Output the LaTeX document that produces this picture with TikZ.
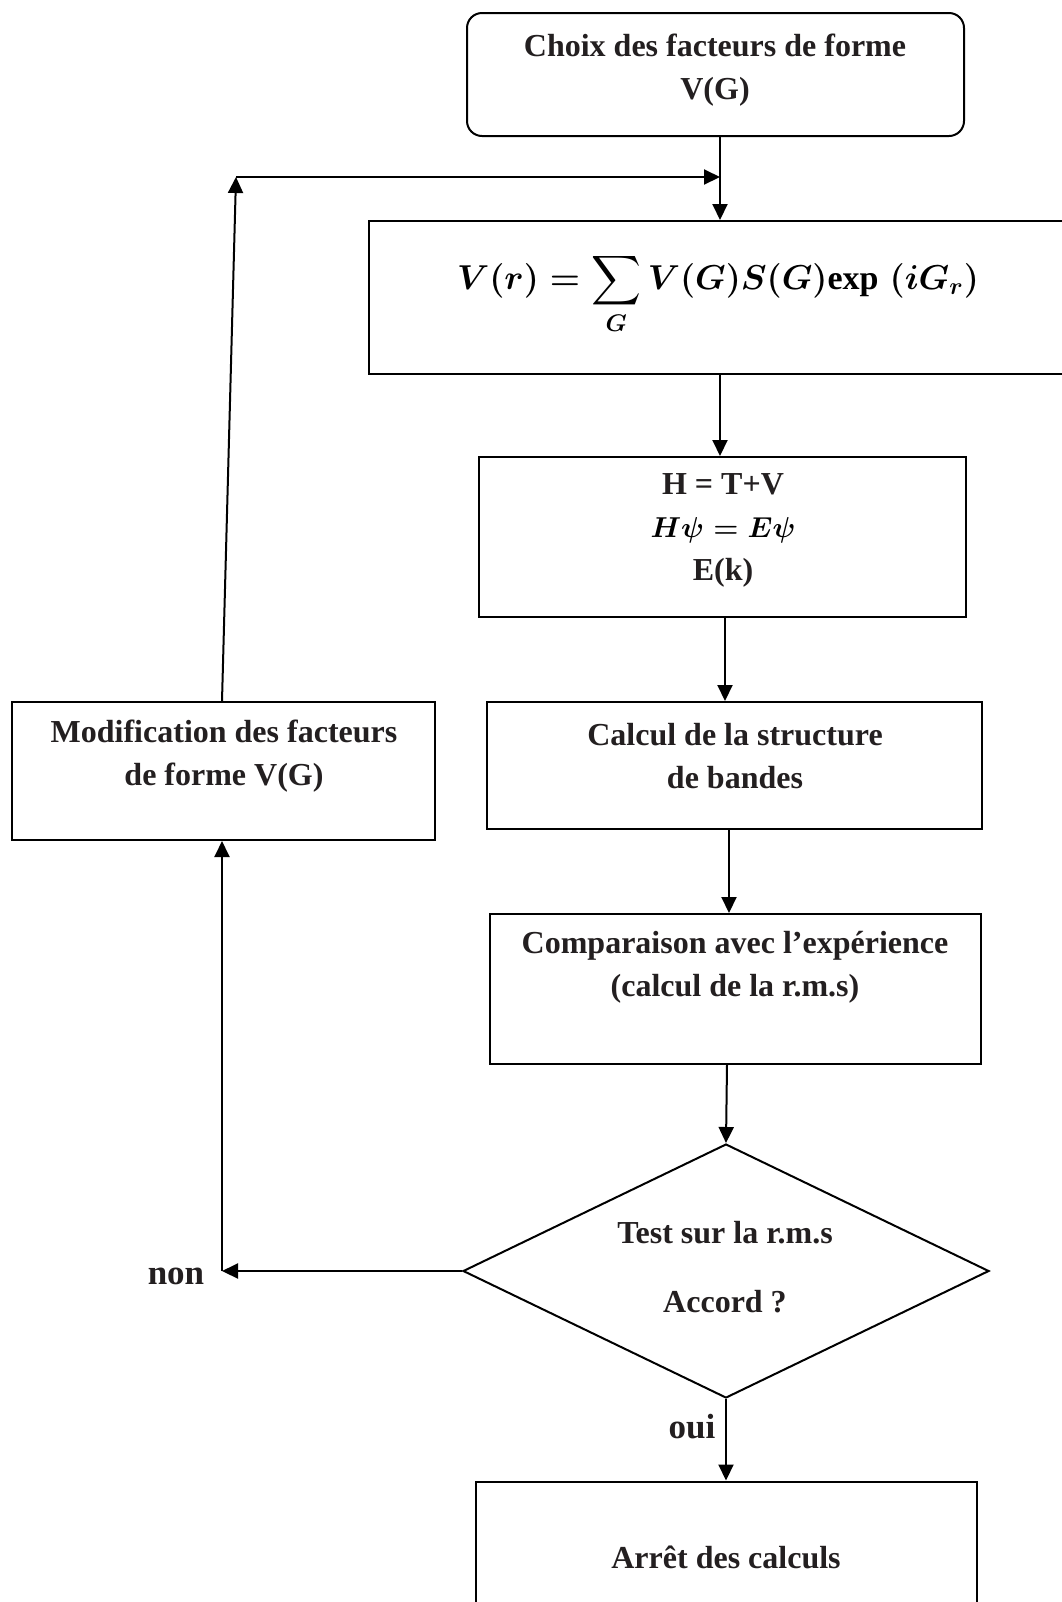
\documentclass[tikz,border=0pt]{standalone}
\usepackage{amsmath}
\usepackage{fontspec}
\setmainfont{Liberation Serif}
\usetikzlibrary{arrows.meta,shapes.geometric}
\definecolor{ink}{HTML}{231F20}
\newsavebox{\potbox}
\newsavebox{\hambox}
\begin{document}
% formulas are set in boxes first, in bold math
\sbox{\potbox}{\fontsize{17}{21}\selectfont\boldmath$\displaystyle V(r)=\sum_{G}V(G)S(G)\mathrm{exp}\;(iG_r)$}
\sbox{\hambox}{\fontsize{13.5}{21.5}\selectfont\boldmath$H\psi=E\psi$}
\begin{tikzpicture}[x=0.5pt,y=-0.5pt,
  frame/.style={draw=black, line width=1pt, inner sep=0pt},
  txt/.style={font=\bfseries\fontsize{16}{21.5}\selectfont, text=ink, align=center, inner sep=0pt},
  tag/.style={font=\bfseries\fontsize{17.5}{20}\selectfont, text=ink, inner sep=0pt},
  arr/.style={-{Triangle[length=8pt,width=7.5pt]}, line width=1pt, draw=black}]

% page
\fill[white] (0,0) rectangle (1061,1602);
\useasboundingbox (0,0) rectangle (1061,1602);

% frames
\node[frame, rounded corners=7.5pt, minimum width=248.5pt, minimum height=61.5pt] (b1) at (715.5,74.5) {};
\node[frame, minimum width=353pt, minimum height=76.5pt] (b2) at (722,297.5) {};
\node[frame, minimum width=243.5pt, minimum height=80pt] (b3) at (722.5,537) {};
\node[frame, minimum width=247.5pt, minimum height=63.5pt] (b4) at (734.5,765.5) {};
\node[frame, minimum width=245.5pt, minimum height=75pt] (b5) at (735.5,989) {};
\node[frame, diamond, minimum width=263pt, minimum height=127pt] (dia) at (726,1271) {};
\node[frame, minimum width=250.5pt, minimum height=71.5pt] (b6) at (726.5,1553) {};
\node[frame, minimum width=211.5pt, minimum height=69pt] (mod) at (223.5,771) {};

% texts
\node[txt] (t1) at (715,70) {Choix des facteurs de forme\\V(G)};
\node[txt] (t2) at (718,294) {\usebox{\potbox}};
\node[txt] (t3) at (723,530) {H = T+V\\\usebox{\hambox}\\E(k)};
\node[txt] (t4) at (735,756) {Calcul de la structure\\de bandes};
\node[txt] (t5) at (735,967) {Comparaison avec l’expérience\\(calcul de la r.m.s)};
\node[txt] (t6) at (725,1267) {Test sur la r.m.s\\[13pt]Accord ?};
\node[txt] (t7) at (726,1557) {Arrêt des calculs};
\node[txt] (t8) at (224,756) {Modification des facteurs\\de forme V(G)};
\node[tag] (oui) at (692,1427) {oui};
\node[tag] (non) at (176,1276) {non};

% arrow columns and corners
\coordinate (c1) at (720,0);
\coordinate (c3) at (725,0);
\coordinate (c4) at (729,0);
\coordinate (c5) at (727,0);
\coordinate (cm) at (222,0);
\coordinate (jt) at (236,177);
\coordinate (jl) at (222,1271);

% main flow
\draw[arr] (b1.south -| c1) -- (b2.north -| c1);
\draw[arr] (b2.south -| c1) -- (b3.north -| c1);
\draw[arr] (b3.south -| c3) -- (b4.north -| c3);
\draw[arr] (b4.south -| c4) -- (b5.north -| c4);
\draw[arr] (b5.south -| c5) -- (dia.north);
\draw[arr] (dia.south) -- (dia.south |- b6.north);

% loop back
\draw[arr] (dia.west) -- (jl);
\draw[arr] (jl) -- (mod.south -| cm);
\draw[arr] (mod.north -| cm) -- (jt);
\draw[arr] (jt) -- (jt -| c1);
\end{tikzpicture}
\end{document}
